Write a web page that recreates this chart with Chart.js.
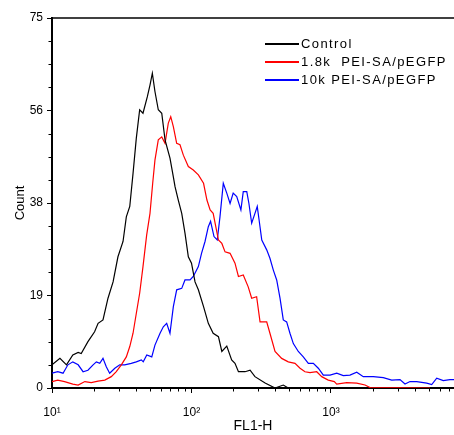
<!DOCTYPE html>
<html>
<head>
<meta charset="utf-8">
<script src="https://cdn.jsdelivr.net/npm/chart.js@4.4.0/dist/chart.umd.min.js"></script>
<style>
  html, body { margin: 0; padding: 0; background: #fff; }
</style>
</head>
<body>
<canvas id="myChart" width="454" height="435"></canvas>
<script>
// series names and colours
var seriesNames = ["Control", "1.8k  PEI-SA/pEGFP", "10k PEI-SA/pEGFP"];
var seriesColors = ["#000000", "#ff0000", "#0000ff"];

// axis ticks
var xTicks = [10, 100, 1000];
var xMin = 10, xMax = 7616;
var yTicks = [0, 18.75, 37.5, 56.25, 75];

// Control
var controlFL1 = [10, 11.4, 12.7, 14.1, 15.4, 16.2, 18.1, 20.2, 21.4, 23.2,
  25.2, 27.4, 29.7, 32.3, 34.1, 36.1, 38.1, 40.2, 42.5, 44.9,
  48.2, 50.4, 52.4, 54.7, 57.8, 61.2, 64.6, 70.1, 74.1, 76.2,
  80.4, 85.1, 89.8, 94.9, 100, 106, 112, 122, 132, 143,
  156, 165, 179, 194, 205, 217, 242, 263, 285, 337,
  397, 455, 494];
var controlCount = [4.7, 6.0, 4.7, 6.7, 7.2, 7.0, 9.4, 11.4, 13.1, 13.8,
  18.2, 21.5, 26.6, 29.7, 34.7, 36.8, 43.5, 50.6, 56.4, 55.7,
  59.0, 61.4, 63.8, 60.1, 56.4, 55.7, 50.3, 46.6, 42.8, 40.8,
  38.1, 35.4, 31.4, 26.6, 25.3, 21.5, 19.9, 16.5, 13.1, 11.1,
  10.4, 7.4, 8.5, 5.7, 5.0, 3.3, 3.3, 3.6, 2.3, 1.0,
  0, 0.6, 0];

// 1.8k PEI-SA/pEGFP
var redFL1 = [10, 11.0, 12.3, 14.1, 15.4, 17.2, 19.1, 21.4, 23.9, 26.6,
  28.9, 31.4, 34.1, 36.1, 38.1, 40.2, 42.5, 44.9, 47.7, 50.4,
  52.7, 54.7, 57.8, 61.2, 64.6, 68.2, 71.0, 74.1, 78.3, 82.7,
  87.4, 94.9, 103, 112, 122, 129, 136, 143, 156, 165,
  174, 189, 205, 217, 235, 255, 270, 293, 310, 346,
  365, 397, 443, 494, 552, 600, 651, 707, 790, 858,
  956, 1056, 1099, 1296, 1529, 1753, 1904, 5130];
var redCount = [1.3, 1.6, 1.3, 0.8, 0.6, 1.3, 1.1, 1.4, 1.6, 2.3,
  3.3, 4.7, 6.3, 8.4, 11.1, 15.1, 19.2, 24.6, 31.0, 35.4,
  41.5, 46.2, 50.3, 50.9, 49.6, 53.7, 55.0, 53.0, 49.6, 49.3,
  47.2, 44.9, 44.2, 43.2, 41.5, 38.1, 36.1, 35.4, 30.0, 29.3,
  27.6, 27.3, 25.3, 22.6, 22.9, 20.5, 18.2, 18.5, 13.4, 13.4,
  11.1, 7.4, 6.0, 5.3, 5.0, 4.0, 3.3, 3.1, 3.3, 2.3,
  1.6, 1.3, 0.8, 1.1, 1.0, 0.6, 0.1, 0];

// 10k PEI-SA/pEGFP
var blueFL1 = [10, 11.0, 12.0, 13.0, 14.1, 15.4, 16.7, 18.1, 19.7, 20.8,
  22.0, 23.2, 24.5, 25.9, 28.2, 30.6, 33.2, 37.0, 40.2, 43.7,
  45.1, 47.8, 51.9, 54.7, 59.5, 62.8, 66.4, 70.1, 74.1, 78.3,
  85.1, 89.8, 97.6, 103, 112, 118, 125, 132, 137, 145,
  153, 160, 169, 179, 189, 199, 211, 226, 235, 249,
  258, 270, 285, 296, 305, 319, 346, 365, 386, 408,
  431, 455, 481, 508, 537, 583, 633, 688, 747, 811,
  881, 984, 1099, 1225, 1368, 1529, 1704, 2011, 2371, 2724,
  3123, 3393, 3685, 4116, 4853, 5272, 5726, 6383, 7129, 7616];
var blueCount = [3.0, 3.3, 3.0, 4.7, 5.3, 4.7, 3.3, 3.6, 4.7, 5.3,
  5.0, 6.0, 4.3, 3.0, 4.0, 4.7, 4.7, 5.0, 5.3, 5.7,
  5.3, 6.7, 6.3, 8.7, 11.1, 12.4, 13.1, 11.1, 16.5, 19.9,
  20.2, 21.9, 21.9, 22.6, 24.6, 27.3, 29.7, 32.7, 33.8, 30.7,
  30.0, 34.7, 41.5, 39.5, 37.4, 39.5, 38.8, 36.1, 39.8, 39.8,
  37.4, 33.4, 35.4, 36.8, 34.1, 30.0, 28.0, 26.3, 23.9, 21.9,
  18.2, 13.8, 13.4, 11.1, 9.0, 7.4, 6.3, 5.0, 5.0, 4.0,
  2.6, 2.6, 3.0, 2.5, 2.6, 3.2, 2.3, 2.3, 2.1, 1.6,
  1.7, 0.8, 1.3, 1.3, 1.0, 0.7, 2.0, 1.5, 1.7, 1.7];

var FONT = "'Liberation Sans', Arial, sans-serif";
var sup = { 1: "\u00b9", 2: "\u00b2", 3: "\u00b3" };

function toPoints(xs, ys) {
  return xs.map(function (x, i) { return { x: x, y: ys[i] }; });
}

// top frame line
var topLine = {
  id: "topLine",
  afterDraw: function (chart) {
    var a = chart.chartArea, ctx = chart.ctx;
    ctx.save();
    ctx.strokeStyle = "#000";
    ctx.lineWidth = 1.5;
    ctx.beginPath();
    ctx.moveTo(a.left, a.top);
    ctx.lineTo(a.right, a.top);
    ctx.stroke();
    ctx.restore();
  }
};

// short minor ticks on both axes
var minorTicks = {
  id: "minorTicks",
  afterDraw: function (chart) {
    var ctx = chart.ctx, xs = chart.scales.x, ys = chart.scales.y, a = chart.chartArea;
    ctx.save();
    ctx.strokeStyle = "#000";
    ctx.lineWidth = 1;
    ctx.beginPath();
    for (var p = 10; p <= 1000; p *= 10) {
      for (var k = 2; k <= 9; k++) {
        var v = k * p;
        if (v > xMax) continue;
        var px = Math.round(xs.getPixelForValue(v)) + 0.5;
        ctx.moveTo(px, a.bottom);
        ctx.lineTo(px, a.bottom + 3.5);
      }
    }
    for (var i = 1; i < 16; i++) {
      if (i % 4 === 0) continue;
      var py = Math.round(ys.getPixelForValue(i * 75 / 16)) + 0.5;
      ctx.moveTo(a.left, py);
      ctx.lineTo(a.left - 3.5, py);
    }
    ctx.stroke();
    ctx.restore();
  }
};

// legend inside the plot, top right
var legendBox = {
  id: "legendBox",
  afterDraw: function (chart) {
    var ctx = chart.ctx;
    ctx.save();
    ctx.font = "13px " + FONT;
    if ("letterSpacing" in ctx) ctx.letterSpacing = "1.4px";
    ctx.textBaseline = "middle";
    ctx.fillStyle = "#000";
    chart.data.datasets.forEach(function (ds, i) {
      var y = 44 + i * 18;
      ctx.strokeStyle = ds.borderColor;
      ctx.lineWidth = 2;
      ctx.beginPath();
      ctx.moveTo(265, y);
      ctx.lineTo(299, y);
      ctx.stroke();
      ctx.fillText(ds.label, 301, y);
    });
    ctx.restore();
  }
};

var ctx = document.getElementById("myChart").getContext("2d");
var histChart = new Chart(ctx, {
  type: "line",
  data: {
    datasets: [
      { label: seriesNames[0], data: toPoints(controlFL1, controlCount), borderColor: seriesColors[0] },
      { label: seriesNames[1], data: toPoints(redFL1, redCount), borderColor: seriesColors[1] },
      { label: seriesNames[2], data: toPoints(blueFL1, blueCount), borderColor: seriesColors[2] }
    ]
  },
  options: {
    responsive: false,
    animation: false,
    parsing: false,
    layout: { padding: { top: 18, right: 0, left: 0, bottom: 0 } },
    elements: {
      line: { borderWidth: 1.2, tension: 0, fill: false },
      point: { radius: 0 }
    },
    plugins: { legend: { display: false }, tooltip: { enabled: false } },
    scales: {
      x: {
        type: "logarithmic",
        min: xMin,
        max: xMax,
        afterBuildTicks: function (scale) {
          scale.ticks = xTicks.map(function (v) { return { value: v }; });
        },
        afterFit: function (scale) { scale.height = 47; },
        ticks: {
          color: "#000",
          font: { family: FONT, size: 12 },
          padding: 12,
          maxRotation: 0,
          autoSkip: false,
          callback: function (v) { return "10" + sup[Math.round(Math.log10(v))]; }
        },
        grid: { drawOnChartArea: false, tickLength: 5, tickColor: "#000", tickWidth: 1 },
        border: { color: "#000", width: 2 },
        title: { display: true, text: "FL1-H", color: "#000", font: { family: FONT, size: 14 }, padding: { top: 0, bottom: 0 } }
      },
      y: {
        type: "linear",
        min: 0,
        max: 75,
        afterBuildTicks: function (scale) {
          scale.ticks = yTicks.map(function (v) { return { value: v }; });
        },
        afterFit: function (scale) { scale.width = 52; },
        ticks: {
          color: "#000",
          font: { family: FONT, size: 12 },
          padding: 4,
          callback: function (v) { return String(Math.round(v)); }
        },
        grid: { drawOnChartArea: false, tickLength: 5, tickColor: "#000", tickWidth: 1 },
        border: { color: "#000", width: 2 },
        title: { display: true, text: "Count", color: "#000", font: { family: FONT, size: 13 }, padding: { top: 13, bottom: 0 } }
      }
    }
  },
  plugins: [topLine, minorTicks, legendBox]
});
</script>
</body>
</html>
